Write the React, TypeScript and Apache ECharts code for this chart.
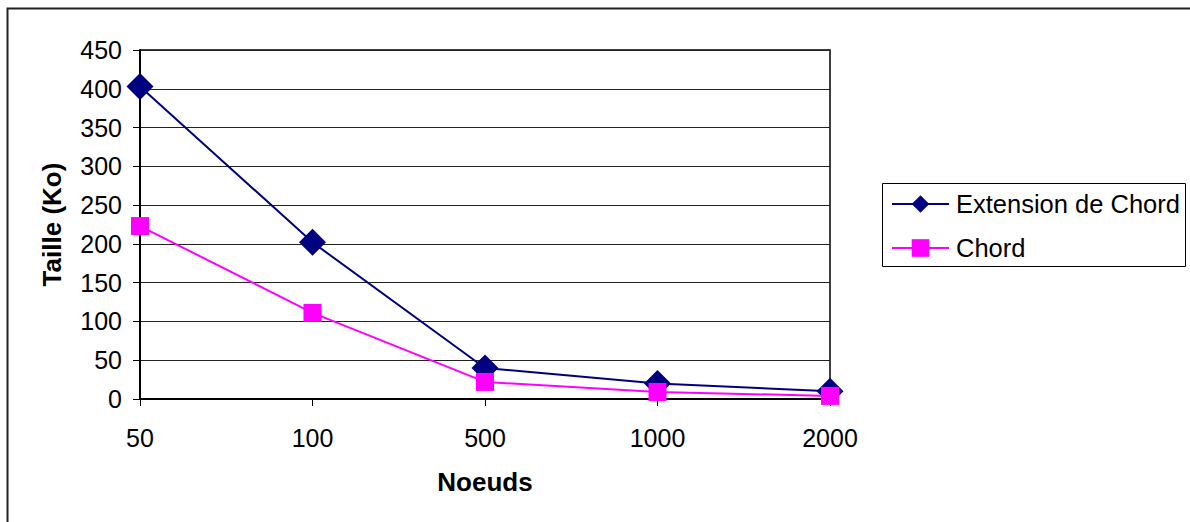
import React, { useEffect, useRef } from "react";
import * as echarts from "echarts";

// Number of nodes in the network (category axis)
const nodeCounts = ["50", "100", "500", "1000", "2000"];
// Routing table size in Ko
const extensionSizes = [403, 202, 40, 20, 10];
const chordSizes = [223, 111, 22, 9, 4];

const yTicks = { min: 0, max: 450, interval: 50 };

const FONT = '"Liberation Sans", Arial, sans-serif';

export default function App() {
  const ref = useRef<HTMLDivElement>(null);

  useEffect(() => {
    if (!ref.current) return;
    const chart = echarts.init(ref.current, null, { renderer: "svg" });
    chart.setOption({
      animation: false,
      backgroundColor: "#ffffff",
      textStyle: { fontFamily: FONT, color: "#000" },
      graphic: [
        {
          type: "rect",
          shape: { x: 7.5, y: 8.5, width: 1300, height: 700 },
          style: { fill: "none", stroke: "#222", lineWidth: 2 },
          silent: true,
        },
        {
          type: "rect",
          shape: { x: 882.5, y: 183.5, width: 303, height: 83 },
          style: { fill: "none", stroke: "#000", lineWidth: 1 },
          silent: true,
        },
      ],
      grid: {
        left: 140,
        top: 50,
        right: 360,
        bottom: 123,
        show: true,
        borderColor: "#000",
        borderWidth: 1.5,
        containLabel: false,
      },
      legend: {
        orient: "vertical",
        left: 891,
        top: 191,
        padding: 0,
        itemWidth: 57,
        itemHeight: 22,
        itemGap: 18,
        textStyle: { fontFamily: FONT, fontSize: 25.5, color: "#000", padding: [0, 0, 0, 2] },
        data: ["Extension de Chord", "Chord"],
      },
      xAxis: {
        type: "category",
        data: nodeCounts,
        boundaryGap: false,
        name: "Noeuds",
        nameLocation: "middle",
        nameGap: 70,
        nameTextStyle: { fontFamily: FONT, fontSize: 26, fontWeight: "bold", color: "#000" },
        axisLine: { lineStyle: { color: "#000", width: 2 } },
        axisTick: { show: true, length: 7, lineStyle: { color: "#000", width: 1 } },
        axisLabel: { fontFamily: FONT, fontSize: 25, color: "#000", margin: 26 },
        splitLine: { show: false },
      },
      yAxis: {
        type: "value",
        min: yTicks.min,
        max: yTicks.max,
        interval: yTicks.interval,
        name: "Taille (Ko)",
        nameLocation: "middle",
        nameRotate: 90,
        nameGap: 75,
        nameTextStyle: { fontFamily: FONT, fontSize: 26, fontWeight: "bold", color: "#000" },
        axisLine: { show: true, lineStyle: { color: "#000", width: 2 } },
        axisTick: { show: true, length: 7, lineStyle: { color: "#000", width: 1 } },
        axisLabel: { fontFamily: FONT, fontSize: 25, color: "#000", margin: 18 },
        splitLine: { show: true, lineStyle: { color: "#222", width: 1 } },
      },
      series: [
        {
          name: "Extension de Chord",
          type: "line",
          data: extensionSizes,
          symbol: "diamond",
          symbolSize: 27,
          lineStyle: { color: "#000080", width: 2 },
          itemStyle: { color: "#000080" },
          z: 3,
        },
        {
          name: "Chord",
          type: "line",
          data: chordSizes,
          symbol: "rect",
          symbolSize: 18,
          lineStyle: { color: "#FF00FF", width: 2 },
          itemStyle: { color: "#FF00FF" },
          z: 4,
        },
      ],
    });
    return () => chart.dispose();
  }, []);

  return (
    <div
      ref={ref}
      style={{ position: "fixed", left: 0, top: 0, width: 1190, height: 522 }}
    />
  );
}
